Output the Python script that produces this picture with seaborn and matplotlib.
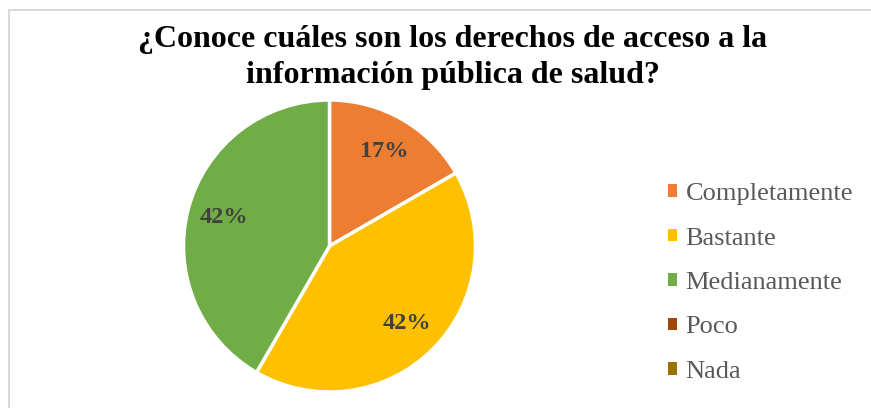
import matplotlib
matplotlib.use('Agg')
import matplotlib.pyplot as plt
import seaborn as sns
from matplotlib.lines import Line2D
from matplotlib.patches import Patch

# Data
categories = ['Completamente', 'Bastante', 'Medianamente', 'Poco', 'Nada']
counts = [4, 10, 10, 0, 0]
colors = ['#ED7D31', '#FFC000', '#70AD47', '#9E480E', '#997300']
title = '¿Conoce cuáles son los derechos de acceso a la\ninformación pública de salud?'

sns.set_theme(style='white')
plt.rcParams['font.family'] = ['Liberation Serif', 'DejaVu Serif']

fig = plt.figure(figsize=(8.71, 4.08), dpi=100)
W, H = 871, 408
cx, cy, r = 329.5, 246, 146
ax = fig.add_axes([(cx - r) / W, 1 - (cy + r) / H, 2 * r / W, 2 * r / H])

# only non-zero slices are drawn, zero ones stay in the legend
vals = [v for v in counts if v > 0]
cols = [c for v, c in zip(counts, colors) if v > 0]
wedges, texts, autotexts = ax.pie(
    vals, colors=cols, startangle=90, counterclock=False,
    autopct=lambda p: f'{p:.0f}%', pctdistance=0.75,
    wedgeprops=dict(edgecolor='white', linewidth=2.5),
    textprops=dict(fontsize=17.5, fontweight='bold', color='#404040'))
ax.set_aspect('equal')
ax.set_xlim(-1, 1)
ax.set_ylim(-1, 1)

fig.text(0.5 * (140 + 765) / W, 1 - 57.5 / H, title, ha='center', va='center',
         fontsize=23, fontweight='bold', color='black', linespacing=1.33)

handles = [Patch(facecolor=c, edgecolor='none') for c in colors]
fig.legend(handles, categories, loc='center left',
           bbox_to_anchor=(657 / W, 1 - 283 / H), frameon=False,
           fontsize=19, labelcolor='#595959', handlelength=0.36, handleheight=0.36,
           handletextpad=0.32, labelspacing=0.85, borderaxespad=0)

# light gray frame (top and left edges visible)
fig.add_artist(Line2D([9 / W, 9 / W], [0, 1 - 10 / H], color='#D9D9D9', linewidth=1.5))
fig.add_artist(Line2D([9 / W, 1], [1 - 10 / H, 1 - 10 / H], color='#D9D9D9', linewidth=1.5))

fig.savefig('out.png', dpi=100, facecolor='white')
